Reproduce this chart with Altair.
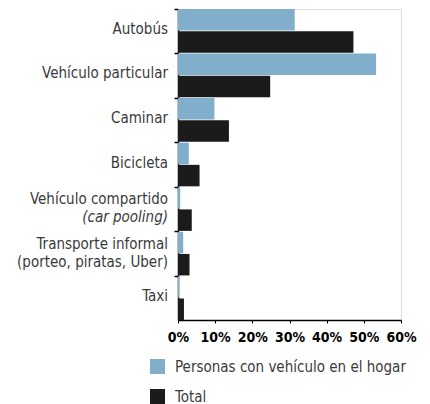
import altair as alt
import pandas as pd

categories = ["Autobús", "Vehículo particular", "Caminar", "Bicicleta",
              "Vehículo compartido", "Transporte informal", "Taxi"]
series_names = ["Personas con vehículo en el hogar", "Total"]
con_vehiculo = [31.4, 53.3, 9.8, 2.9, 0.6, 1.4, 0.3]
total = [47.2, 24.8, 13.7, 5.8, 3.7, 3.1, 1.6]
label_lines = [["Autobús"], ["Vehículo particular"], ["Caminar"], ["Bicicleta"],
               ["Vehículo compartido", "(car pooling)"],
               ["Transporte informal", "(porteo, piratas, Uber)"], ["Taxi"]]
italic_lines = ["(car pooling)"]
x_ticks = [0, 10, 20, 30, 40, 50, 60]
colors = ["#80AECB", "#1B1B1B"]

FONT = "DejaVu Sans Condensed, DejaVu Sans, sans-serif"

rows = []
for c, a, b in zip(categories, con_vehiculo, total):
    rows.append({"cat": c, "serie": series_names[0], "v": a})
    rows.append({"cat": c, "serie": series_names[1], "v": b})
bars_df = pd.DataFrame(rows)

lrows = []
for c, lines in zip(categories, label_lines):
    for i, t in enumerate(lines):
        lrows.append({"cat": c, "line": i, "n": len(lines), "txt": t,
                      "it": t in italic_lines})
labels_df = pd.DataFrame(lrows)

yscale = alt.Scale(domain=categories, paddingInner=0.02, paddingOuter=0)

bars = alt.Chart(bars_df).mark_bar().encode(
    y=alt.Y("cat:N", scale=yscale, sort=categories,
            axis=alt.Axis(title=None, labels=False, bandPosition=0, tickSize=4,
                          tickColor="black", domainColor="black", domainWidth=1.5,
                          tickWidth=1.5, grid=False)),
    yOffset=alt.YOffset("serie:N", sort=series_names,
                        scale=alt.Scale(domain=series_names, paddingInner=0.03)),
    x=alt.X("v:Q", scale=alt.Scale(domain=[0, 60], nice=False),
            axis=alt.Axis(title=None, values=x_ticks, labelExpr="datum.value + '%'",
                          labelFont=FONT, labelFontSize=14, labelFontWeight="bold",
                          labelColor="black", labelPadding=7, tickSize=3,
                          tickColor="black", domainColor="black", domainWidth=1.5,
                          grid=False, labelFlush=False, labelOverlap=False)),
    color=alt.Color("serie:N", scale=alt.Scale(domain=series_names, range=colors),
                    legend=alt.Legend(title=None, orient="none", legendX=-28, legendY=350,
                                      symbolType="square", symbolSize=225,
                                      symbolStrokeWidth=0, labelFont=FONT,
                                      labelFontSize=15, labelColor="#3a3a3a",
                                      labelOffset=10, rowPadding=14, padding=0,
                                      labelLimit=400)),
)

def text_layer(filt, dy, style="normal"):
    return alt.Chart(labels_df).transform_filter(filt).mark_text(
        align="right", baseline="alphabetic", dy=dy, font=FONT, fontSize=15,
        color="#3a3a3a", fontStyle=style,
    ).encode(
        y=alt.Y("cat:N", scale=yscale, sort=categories),
        x=alt.value(-10),
        text="txt:N",
    )

t1 = text_layer("datum.n == 1", 3)
t2 = text_layer("datum.n == 2 && datum.line == 0", -5)
t3 = text_layer("datum.n == 2 && datum.line == 1 && !datum.it", 13)
t4 = text_layer("datum.n == 2 && datum.line == 1 && datum.it", 13, "italic")

chart = alt.layer(bars, t1, t2, t3, t4).properties(
    width=223, height=311,
    autosize=alt.AutoSizeParams(type="none"),
    padding={"left": 170, "top": 1, "right": 21, "bottom": 84},
).configure_view(stroke=None).configure(background="white")

chart.save("out.html", embed_options={"renderer": "svg", "actions": False})
